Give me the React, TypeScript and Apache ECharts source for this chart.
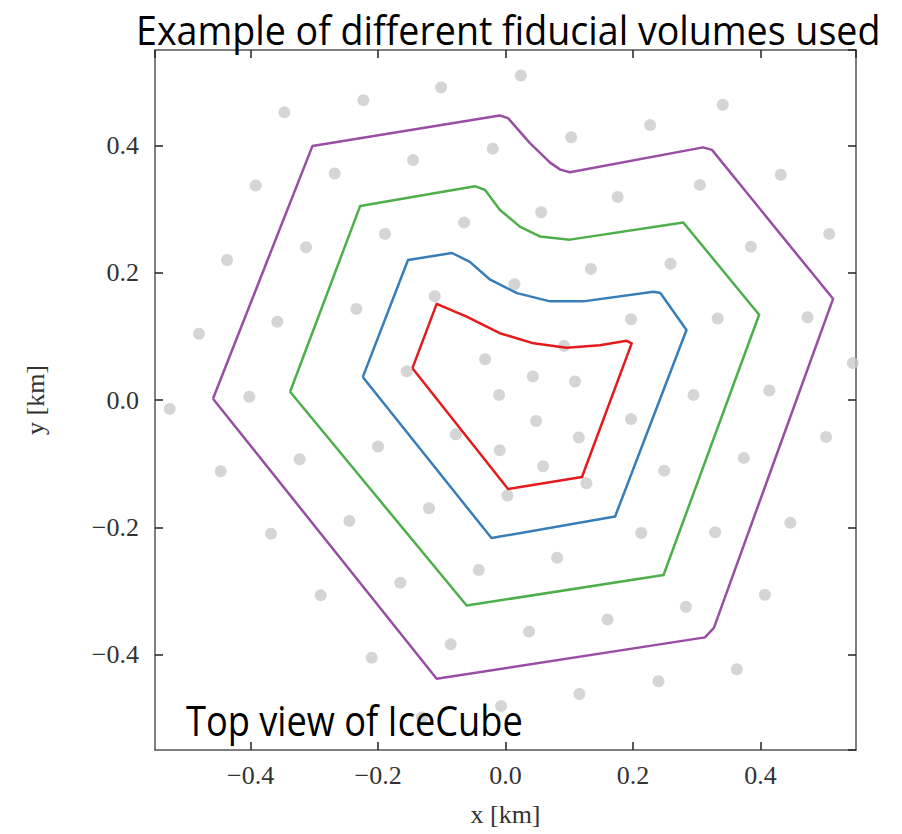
import React, { useEffect, useRef } from "react";
import * as echarts from "echarts";

// IceCube string positions (km)
const stringX = [
  -0.101, -0.223, -0.347, 0.024, 0.341, 0.227, 0.103, -0.020, -0.145, -0.268,
  -0.392, 0.432, 0.305, 0.176, 0.056, -0.065, -0.189, -0.313, -0.437, 0.508,
  0.385, 0.259, 0.134, 0.014, -0.111, -0.234, -0.358, -0.481, 0.474, 0.333,
  0.197, 0.092, -0.032, -0.155, 0.545, 0.043, 0.109, 0.414, 0.295, -0.010,
  -0.402, -0.527, 0.048, 0.197, 0.503, 0.115, -0.078, -0.200, -0.323, -0.447,
  -0.009, 0.374, 0.059, 0.249, 0.127, 0.003, -0.120, -0.245, -0.368, 0.447,
  0.329, 0.213, 0.081, -0.042, -0.165, -0.290, 0.407, 0.283, 0.160, 0.037,
  -0.086, -0.210, 0.363, 0.240, 0.116, -0.007, -0.131,
];
const stringY = [
  0.491, 0.471, 0.452, 0.510, 0.464, 0.432, 0.413, 0.395, 0.377, 0.356,
  0.337, 0.354, 0.338, 0.319, 0.295, 0.279, 0.261, 0.240, 0.220, 0.261,
  0.241, 0.214, 0.206, 0.182, 0.163, 0.143, 0.123, 0.104, 0.130, 0.128,
  0.127, 0.085, 0.064, 0.045, 0.058, 0.037, 0.029, 0.015, 0.008, 0.008,
  0.005, -0.014, -0.033, -0.030, -0.058, -0.059, -0.054, -0.073, -0.093, -0.112,
  -0.079, -0.091, -0.104, -0.111, -0.131, -0.150, -0.170, -0.190, -0.210, -0.193,
  -0.208, -0.209, -0.248, -0.267, -0.287, -0.307, -0.306, -0.325, -0.345, -0.364,
  -0.384, -0.405, -0.423, -0.442, -0.462, -0.481, -0.499,
];

// Fiducial volume outlines (km)
const purpleOutline = [
  [-0.459, 0.002], [-0.303, 0.399], [-0.009, 0.447], [0.004, 0.443],
  [0.038, 0.404], [0.070, 0.373], [0.086, 0.362], [0.101, 0.358],
  [0.310, 0.397], [0.324, 0.393], [0.514, 0.159], [0.327, -0.358],
  [0.313, -0.373], [-0.108, -0.438], [-0.459, 0.002],
];
const greenOutline = [
  [-0.338, 0.013], [-0.228, 0.305], [-0.048, 0.336], [-0.032, 0.330],
  [-0.009, 0.299], [0.023, 0.272], [0.054, 0.257], [0.101, 0.252],
  [0.279, 0.279], [0.398, 0.134], [0.248, -0.275], [-0.061, -0.323],
  [-0.338, 0.013],
];
const blueOutline = [
  [-0.224, 0.036], [-0.153, 0.220], [-0.084, 0.231], [-0.056, 0.217],
  [-0.024, 0.189], [0.018, 0.168], [0.070, 0.155], [0.122, 0.155],
  [0.232, 0.170], [0.243, 0.168], [0.284, 0.110], [0.172, -0.183],
  [-0.022, -0.217], [-0.224, 0.036],
];
const redOutline = [
  [-0.146, 0.050], [-0.108, 0.151], [-0.061, 0.131], [-0.009, 0.105],
  [0.044, 0.089], [0.096, 0.082], [0.148, 0.086], [0.190, 0.093],
  [0.198, 0.089], [0.120, -0.121], [0.004, -0.140], [-0.146, 0.050],
];

const titleText = "Example of different fiducial volumes used";
const subText = "Top view of IceCube";
const xName = "x [km]";
const yName = "y [km]";

const outlines = [
  { name: "purple", data: purpleOutline, color: "#984ea3" },
  { name: "green", data: greenOutline, color: "#4daf4a" },
  { name: "blue", data: blueOutline, color: "#377eb8" },
  { name: "red", data: redOutline, color: "#e41a1c" },
];

const fmt = (v: number) => (v < 0 ? "\u2212" : "") + Math.abs(v).toFixed(1);

function measure(text: string, font: string): number {
  const c = document.createElement("canvas").getContext("2d");
  if (!c) return text.length * 20;
  c.font = font;
  return c.measureText(text).width;
}

export default function App() {
  const ref = useRef<HTMLDivElement>(null);
  useEffect(() => {
    document.body.style.margin = "0";
    if (!ref.current) return;
    const chart = echarts.init(ref.current, undefined, { renderer: "svg" });
    const sansFont = "Open Sans";
    const titleSize = 40;
    const subSize = 42;
    const titleFont = `500 ${titleSize}px "${sansFont}"`;
    const subFont = `500 ${subSize}px "${sansFont}"`;
    const titleScale = 745 / measure(titleText, titleFont);
    const subScale = 337 / measure(subText, subFont);

    const labelStyle = {
      fontFamily: "Liberation Serif",
      fontSize: 26,
      color: "#333",
    };
    const tick = { show: true, inside: true, length: 8, lineStyle: { color: "#222", width: 1.5 } };
    const line = { show: true, onZero: false, lineStyle: { color: "#555", width: 1.5 } };
    const common = { type: "value" as const, min: -0.55, max: 0.55, splitLine: { show: false } };

    chart.setOption({
      animation: false,
      backgroundColor: "#fff",
      grid: { left: 155, top: 50, width: 701, height: 700, outerBoundsMode: "none" },
      xAxis: [
        {
          ...common,
          position: "bottom",
          axisLine: line,
          axisTick: tick,
          axisLabel: { ...labelStyle, formatter: fmt, margin: 12, showMinLabel: false, showMaxLabel: false },
          name: xName,
          nameLocation: "middle",
          nameGap: 51,
          nameTextStyle: { ...labelStyle },
        },
        {
          ...common,
          position: "top",
          axisLine: line,
          axisTick: tick,
          axisLabel: { show: false },
        },
      ],
      yAxis: [
        {
          ...common,
          position: "left",
          axisLine: line,
          axisTick: tick,
          axisLabel: { ...labelStyle, formatter: fmt, margin: 16, showMinLabel: false, showMaxLabel: false },
          name: yName,
          nameLocation: "middle",
          nameRotate: 90,
          nameGap: 107,
          nameTextStyle: { ...labelStyle },
        },
        {
          ...common,
          position: "right",
          axisLine: line,
          axisTick: tick,
          axisLabel: { show: false },
        },
      ],
      series: [
        {
          type: "scatter",
          name: "strings",
          xAxisIndex: 0,
          yAxisIndex: 0,
          data: stringX.map((x, i) => [x, stringY[i]]),
          symbol: "circle",
          symbolSize: 12,
          itemStyle: { color: "#cbcbcb" },
          z: 1,
        },
        ...outlines.map((o) => ({
          type: "line",
          name: o.name,
          xAxisIndex: 0,
          yAxisIndex: 0,
          data: o.data,
          showSymbol: false,
          symbol: "none",
          lineStyle: { color: o.color, width: 2.5, join: "round" },
          z: 2,
        })),
      ],
      graphic: [
        {
          type: "text",
          x: 136,
          y: 30,
          scaleX: titleScale,
          z: 100,
          style: {
            text: titleText,
            font: titleFont,
            fill: "#000",
            align: "left",
            verticalAlign: "middle",
          },
        },
        {
          type: "text",
          x: 186,
          y: 719,
          scaleX: subScale,
          z: 100,
          style: {
            text: subText,
            font: subFont,
            fill: "#000",
            align: "left",
            verticalAlign: "middle",
          },
        },
      ],
    });
    return () => chart.dispose();
  }, []);
  return <div ref={ref} style={{ width: 902, height: 834 }} />;
}
